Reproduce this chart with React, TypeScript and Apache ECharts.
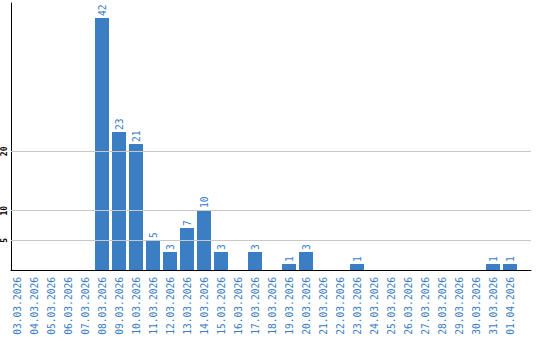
import React, { useEffect, useRef } from "react";
import * as echarts from "echarts";

const categories = [
  "03.03.2026", "04.03.2026", "05.03.2026", "06.03.2026", "07.03.2026",
  "08.03.2026", "09.03.2026", "10.03.2026", "11.03.2026", "12.03.2026",
  "13.03.2026", "14.03.2026", "15.03.2026", "16.03.2026", "17.03.2026",
  "18.03.2026", "19.03.2026", "20.03.2026", "21.03.2026", "22.03.2026",
  "23.03.2026", "24.03.2026", "25.03.2026", "26.03.2026", "27.03.2026",
  "28.03.2026", "29.03.2026", "30.03.2026", "31.03.2026", "01.04.2026",
];
const values = [
  0, 0, 0, 0, 0,
  42, 23, 21, 5, 3,
  7, 10, 3, 0, 3,
  0, 1, 3, 0, 0,
  1, 0, 0, 0, 0,
  0, 0, 0, 1, 1,
];
const yTickLabels = [5, 10, 20];
const yMax = 45;

const BLUE = "#3b7ec3";
const FONT = "DejaVu Sans Mono";

export default function App() {
  const ref = useRef<HTMLDivElement>(null);
  useEffect(() => {
    if (!ref.current) return;
    const chart = echarts.init(ref.current, undefined, { renderer: "svg" });
    chart.setOption({
      animation: false,
      backgroundColor: "#ffffff",
      grid: [
        { left: 8.5, width: 510, top: 0, height: 270 },
        { left: 11, width: 520, top: 0, height: 270 },
      ],
      xAxis: [
        {
          type: "category",
          gridIndex: 0,
          data: categories,
          axisLine: { show: false },
          axisTick: { show: false },
          splitLine: { show: false },
          axisLabel: {
            rotate: 90,
            interval: 0,
            margin: 7,
            color: BLUE,
            fontFamily: FONT,
            fontSize: 9.6,
          },
        },
        {
          type: "value",
          gridIndex: 1,
          min: 0,
          max: 1,
          axisLine: { show: true, onZero: false, lineStyle: { color: "#000", width: 1 } },
          axisTick: { show: false },
          axisLabel: { show: false },
          splitLine: { show: false },
        },
      ],
      yAxis: [
        {
          type: "value",
          gridIndex: 0,
          min: 0,
          max: yMax,
          show: false,
          splitLine: { show: false },
        },
        {
          type: "value",
          gridIndex: 1,
          min: 0,
          max: yMax,
          interval: 5,
          axisLine: { show: true, onZero: false, lineStyle: { color: "#000", width: 1 } },
          axisTick: { show: false },
          splitLine: { show: false },
          axisLabel: {
            rotate: 90,
            margin: 3,
            color: "#000",
            fontFamily: FONT,
            fontSize: 8,
            fontWeight: "bold",
            formatter: (v: number) => (yTickLabels.includes(v) ? String(v) : ""),
          },
        },
      ],
      series: [
        {
          type: "line",
          xAxisIndex: 1,
          yAxisIndex: 1,
          data: [],
          z: 1,
          silent: true,
          markLine: {
            silent: true,
            symbol: "none",
            label: { show: false },
            lineStyle: { color: "#c8c8c8", type: "solid", width: 1 },
            data: yTickLabels.map((v) => ({ yAxis: v })),
          },
        },
        {
          type: "bar",
          xAxisIndex: 0,
          yAxisIndex: 0,
          data: values,
          barWidth: 14,
          z: 3,
          itemStyle: { color: BLUE },
          label: {
            show: true,
            position: "top",
            rotate: 90,
            align: "left",
            verticalAlign: "middle",
            distance: 2,
            color: BLUE,
            fontFamily: FONT,
            fontSize: 9.6,
            formatter: (p: any) => (p.value ? String(p.value) : ""),
          },
        },
      ],
    });
    return () => chart.dispose();
  }, []);
  return (
    <div
      ref={ref}
      style={{ position: "fixed", left: 0, top: 0, width: 540, height: 340, background: "#fff" }}
    />
  );
}
